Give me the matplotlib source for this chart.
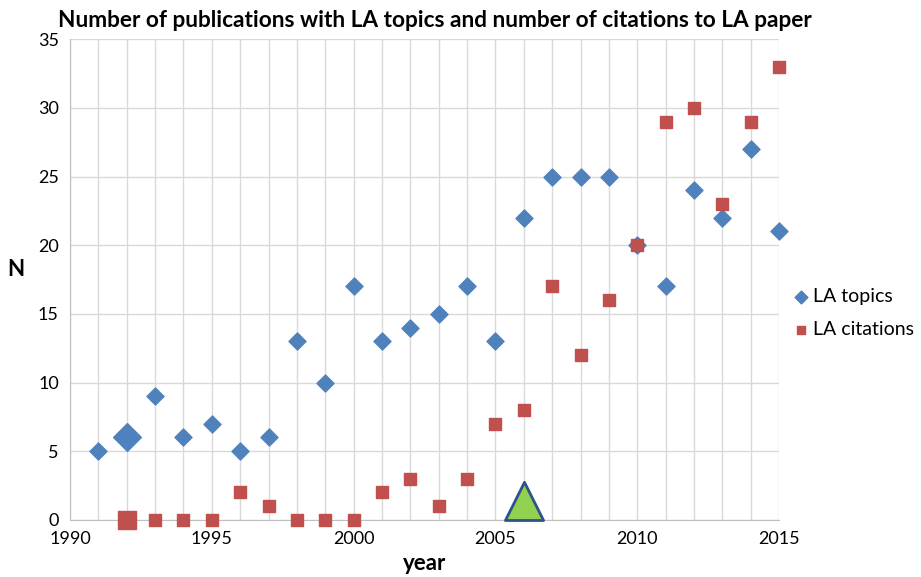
import numpy as np
import matplotlib
matplotlib.use("Agg")
import matplotlib.pyplot as plt
from matplotlib.path import Path

plt.rcParams['font.family'] = ['Lato', 'DejaVu Sans']

# LA topics (publications per year)
topic_years = [1991, 1992, 1993, 1994, 1995, 1996, 1997, 1998, 1999, 2000, 2001, 2002, 2003,
               2004, 2005, 2006, 2007, 2008, 2009, 2010, 2011, 2012, 2013, 2014, 2015]
topic_counts = [5, 6, 9, 6, 7, 5, 6, 13, 10, 17, 13, 14, 15,
                17, 13, 22, 25, 25, 25, 20, 17, 24, 22, 27, 21]

# LA citations per year
cite_years = [1992, 1993, 1994, 1995, 1996, 1997, 1998, 1999, 2000, 2001, 2002, 2003,
              2004, 2005, 2006, 2007, 2008, 2009, 2010, 2011, 2012, 2013, 2014, 2015]
cite_counts = [0, 0, 0, 0, 2, 1, 0, 0, 0, 2, 3, 1,
               3, 7, 8, 17, 12, 16, 20, 29, 30, 23, 29, 33]

# highlighted points (first year, bigger marker) and milestone
first_year = 1992
first_topic = 6
first_cite = 0
milestone_year = [2006]
milestone_val = [0]

blue = "#4F81BD"
red = "#C0504D"

fig = plt.figure(figsize=(9.21, 5.77), dpi=100)
ax = fig.add_axes([0.076, 0.099, 0.770, 0.833])

ax.scatter(topic_years, topic_counts, marker="D", s=75, color=blue, label="LA topics",
           zorder=3, clip_on=False)
ax.scatter(cite_years, cite_counts, marker="s", s=65, color=red, label="LA citations",
           zorder=3, clip_on=False)
ax.scatter([first_year], [first_topic], marker="D", s=200, color=blue, zorder=3)
ax.scatter([first_year], [first_cite], marker="s", s=150, color=red, zorder=3, clip_on=False)

# triangle with base on the data point
tri = Path([(-1, 0), (1, 0), (0, 2), (-1, 0)],
           [Path.MOVETO, Path.LINETO, Path.LINETO, Path.CLOSEPOLY])
ax.plot(milestone_year, milestone_val, linestyle="none", marker=tri, markersize=55,
        markerfacecolor="#92D050", markeredgecolor="#2F528F", markeredgewidth=2,
        clip_on=False, zorder=4)

ax.set_xlim(1990, 2015)
ax.set_ylim(0, 35)
ax.set_xticks(np.arange(1990, 2016, 5))
ax.set_xticks(np.arange(1990, 2016, 1), minor=True)
ax.set_yticks(np.arange(0, 36, 5))
ax.grid(True, which="major", color="#D9D9D9", linewidth=1)
ax.grid(True, which="minor", axis="x", color="#D9D9D9", linewidth=1)
ax.set_axisbelow(True)
ax.tick_params(which="both", length=0, labelsize=13, pad=8)

for side in ["top", "right"]:
    ax.spines[side].set_visible(False)
for side in ["left", "bottom"]:
    ax.spines[side].set_color("#BFBFBF")

ax.set_xlabel("year", fontsize=16, fontweight="bold", labelpad=4)
ax.set_ylabel("N", fontsize=16, fontweight="bold", rotation=0)
ax.yaxis.set_label_coords(-0.077, 0.5)
ax.set_title("Number of publications with LA topics and number of citations to LA paper",
             fontsize=16.3, fontweight="bold", pad=9, x=0.515)

ax.legend(loc="center left", bbox_to_anchor=(0.995, 0.43), frameon=False, fontsize=14,
          handletextpad=0.0, handlelength=1.2, markerscale=0.75, labelspacing=0.85,
          borderaxespad=0.3)

fig.savefig("out.png", dpi=100)
